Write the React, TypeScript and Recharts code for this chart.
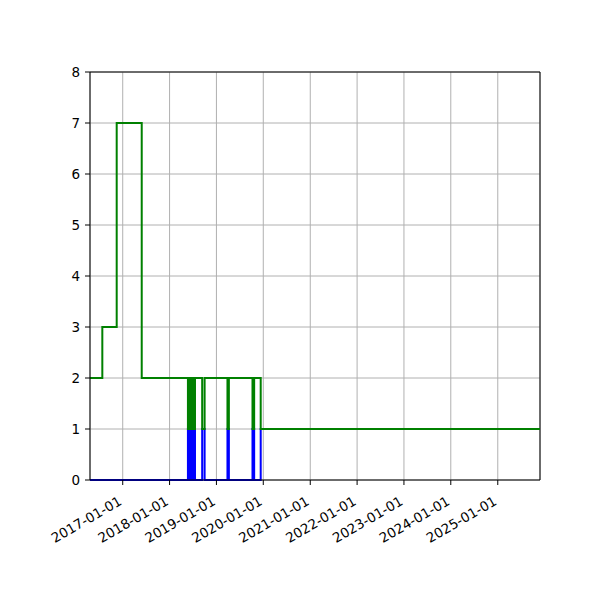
import React from "react";
import { CartesianGrid, Line, LineChart, ReferenceLine, XAxis, YAxis } from "recharts";

// step changes
const changeDates = [
  "2016-04-21",
  "2016-07-26",
  "2016-11-15",
  "2017-05-29",
  "2018-05-24",
  "2018-06-01",
  "2018-06-09",
  "2018-06-24",
  "2018-07-03",
  "2018-07-18",
  "2018-09-12",
  "2018-10-01",
  "2019-03-28",
  "2019-04-08",
  "2019-10-09",
  "2019-10-22",
  "2019-12-12",
  "2025-11-26",
];
const greenCounts = [2, 3, 7, 2, 1, 2, 1, 2, 1, 2, 1, 2, 1, 2, 1, 2, 1, 1];
const blueCounts = [0, 0, 0, 0, 1, 0, 1, 0, 1, 0, 1, 0, 1, 0, 1, 0, 1, 1];
const yearTicks = ["2017-01-01", "2018-01-01", "2019-01-01", "2020-01-01", "2021-01-01", "2022-01-01", "2023-01-01", "2024-01-01", "2025-01-01"];
const yTicks = [0, 1, 2, 3, 4, 5, 6, 7, 8];

const toTime = (d: string) => new Date(d + "T00:00:00Z").getTime();

const data = changeDates.map((d, i) => ({
  t: toTime(d),
  green: greenCounts[i],
  blue: blueCounts[i],
}));

const xMin = toTime(changeDates[0]);
const xMax = toTime(changeDates[changeDates.length - 1]);
const FONT = "DejaVu Sans";
const FONT_SIZE = 13.5;

function DateTick(props: any) {
  const { x, y, payload } = props;
  const label = new Date(payload.value).toISOString().slice(0, 10);
  const tx = x;
  const ty = y + 17;
  return (
    <text
      x={tx}
      y={ty}
      transform={`rotate(-30, ${tx}, ${ty})`}
      textAnchor="end"
      fontSize={FONT_SIZE}
      fontFamily={FONT}
      fill="#000"
    >
      {label}
    </text>
  );
}

export default function App() {
  return (
    <div style={{ position: "absolute", left: 0, top: 0, width: 600, height: 600, background: "#fff" }}>
      <LineChart width={600} height={600} data={data} margin={{ top: 72, right: 60, bottom: 0, left: 50 }}>
        <CartesianGrid stroke="#b0b0b0" strokeWidth={1} />
        <XAxis
          dataKey="t"
          type="number"
          scale="time"
          domain={[xMin, xMax]}
          ticks={yearTicks.map(toTime)}
          tick={<DateTick />}
          tickSize={5}
          tickMargin={2}
          height={120}
          interval={0}
          allowDataOverflow
          axisLine={{ stroke: "#000" }}
          tickLine={{ stroke: "#000" }}
        />
        <YAxis
          type="number"
          domain={[0, 8]}
          ticks={yTicks}
          interval={0}
          width={40}
          tickSize={5}
          tickMargin={5}
          axisLine={{ stroke: "#000" }}
          tickLine={{ stroke: "#000" }}
          tick={{ fill: "#000", fontSize: FONT_SIZE, fontFamily: FONT }}
        />
        <ReferenceLine y={8} stroke="#000" strokeWidth={1} />
        <ReferenceLine x={xMax} stroke="#000" strokeWidth={1} />
        <Line
          type="stepAfter"
          dataKey="blue"
          stroke="#0000ff"
          strokeWidth={2}
          dot={false}
          activeDot={false}
          isAnimationActive={false}
        />
        <Line
          type="stepAfter"
          dataKey="green"
          stroke="#008000"
          strokeWidth={2}
          dot={false}
          activeDot={false}
          isAnimationActive={false}
        />
      </LineChart>
    </div>
  );
}
